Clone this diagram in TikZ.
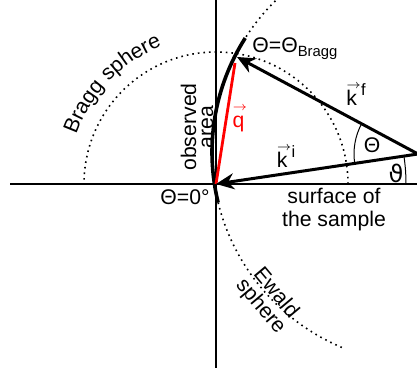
\documentclass[tikz,border=0pt]{standalone}
\usepackage{fontspec}
\setmainfont{Liberation Sans}
\newfontfamily\symfont{DejaVu Sans}
\usetikzlibrary{arrows.meta,decorations.text}

\newcommand{\varr}[1]{\ooalign{#1\cr\hfil\raisebox{0.8em}{\fontsize{6.5}{7}\selectfont$\rightarrow$}\hfil\cr}}
\newcommand{\supx}[1]{\raisebox{5pt}{\fontsize{8.2}{9}\selectfont #1}}

\begin{document}
\fontsize{10.6}{12}\selectfont
\begin{tikzpicture}[x=0.5pt,y=0.5pt,
    axis/.style={line width=0.7pt},
    dots/.style={line width=0.8pt,dash pattern=on 0.8pt off 2pt},
    vec/.style={-{Stealth[length=9pt,width=8pt]},line width=1.5pt},
    qvec/.style={line width=1.4pt,color=red},
    obs/.style={line width=1.8pt},
    angl/.style={line width=0.5pt},
    lbl/.style={inner sep=0pt,align=center}
  ]
  \useasboundingbox (0,0) rectangle (417,368);
  % points
  \coordinate (O) at (216,184);
  \coordinate (P) at (418,214);
  \coordinate (E) at (424,216);
  \coordinate (F) at (237,311);
  \coordinate (Q) at (235,305);
  \coordinate (xl) at (10,184);
  \coordinate (xr) at (417,184);
  \coordinate (yt) at (216,368);
  \coordinate (yb) at (216,0);

  % axes
  \draw[axis] (xl) -- (xr);
  \draw[axis] (yb) -- (yt);

  % Bragg sphere
  \draw[dots] (O) ++(0:132) arc[start angle=0,end angle=180,radius=132];
  \path[decorate,decoration={text along path,text align=center,
      text={Bragg sphere}}]
    (O) ++(172:148) arc[start angle=172,end angle=100,radius=148];

  % Ewald sphere
  \draw[dots] (E) ++(133:212) arc[start angle=133,end angle=147.5,radius=212];
  \draw[obs] (E) ++(147.5:212) arc[start angle=147.5,end angle=193.8,radius=212];
  \draw[dots] (E) ++(193.8:212) arc[start angle=193.8,end angle=248,radius=212];

  % angles
  \draw[angl] (P) ++(151.8:64) arc[start angle=151.8,end angle=188.45,radius=64];
  \draw[angl] (O) ++(0:190) arc[start angle=0,end angle=8.45,radius=190];

  % vectors
  \draw[qvec] (O) -- (Q);
  \draw[vec] (P) -- (O);
  \draw[vec] (P) -- (F);

  % labels
  \node[lbl,anchor=base west] (tbragg) at (252,315) {Θ=Θ\textsubscript{Bragg}};
  \node[lbl,anchor=base east] (tzero) at (210,163) {Θ=0°};
  \node[lbl] (kf) at (356,273) {\varr{k}\supx{f}};
  \node[lbl] (ki) at (286,211) {\varr{k}\supx{i}};
  \node[lbl,text=red] (q) at (240,246) {\varr{q}};
  \node[lbl] (theta) at (372,223) {Θ};
  \node[lbl,font={\fontsize{12}{12}\selectfont}] (vtheta) at (396,195) {\symfont ϑ};
  \node[lbl,font={\fontsize{10.6}{11.5}\selectfont}] (surf) at (334,158) {surface of\\the sample};
  \node[lbl,rotate=90,font={\fontsize{10.6}{8.5}\selectfont}] (obsarea) at (197,241) {observed\\area};
  \node[lbl,rotate=-50,font={\fontsize{10.6}{10}\selectfont}] (ewald) at (268,68) {Ewald\\sphere};
\end{tikzpicture}
\end{document}
